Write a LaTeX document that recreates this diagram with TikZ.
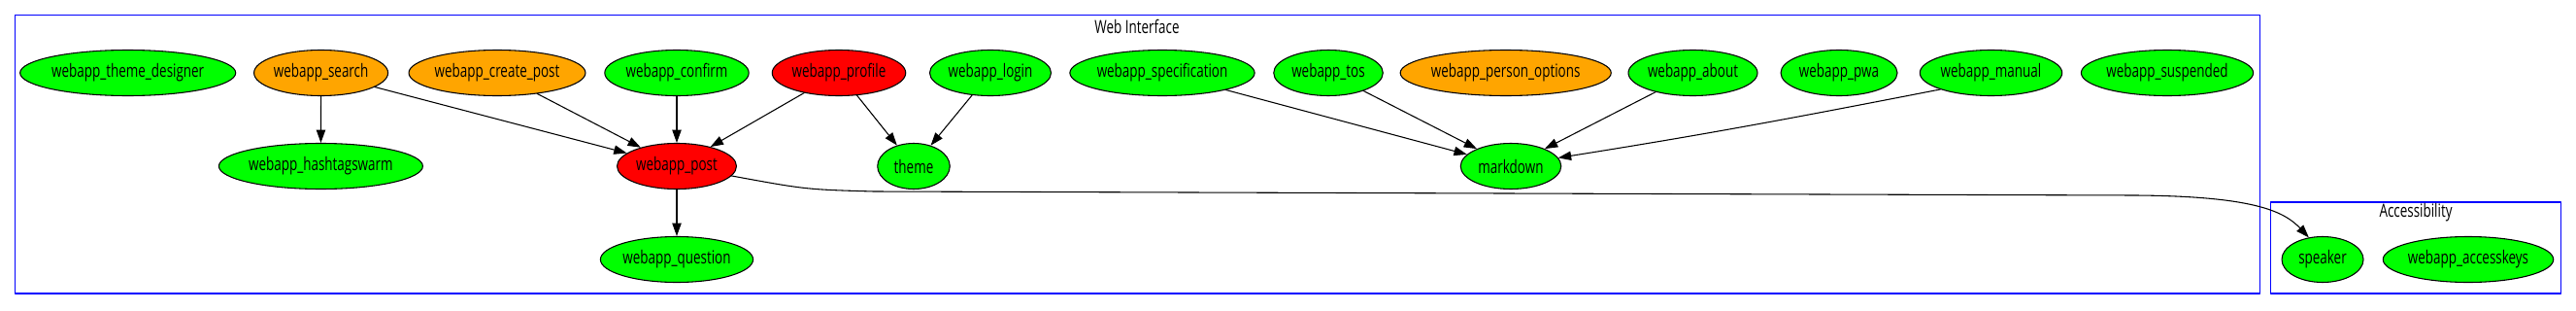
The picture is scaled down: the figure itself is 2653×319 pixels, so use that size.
\documentclass[tikz,border=0pt]{standalone}
\usepackage{fontspec}
\setmainfont{Open Sans}[FakeStretch=0.72]
\usetikzlibrary{arrows.meta, shapes.geometric}
\definecolor{gvgreen}{HTML}{00FF00}
\definecolor{gvorange}{HTML}{FFA500}
\definecolor{gvred}{HTML}{FF0000}
\def\px{0.75pt}
\tikzset{
  >={Triangle[length=10pt, width=7pt]},
  every picture/.style={line cap=round, line join=round, font=\fontsize{14pt}{17pt}\selectfont},
  mod/.style={ellipse, draw, line width=0.8pt, inner sep=0pt, minimum height=47*\px},
  wd/.style={minimum width=#1*\px},
  okmod/.style={mod, fill=gvgreen},
  warnmod/.style={mod, fill=gvorange},
  errmod/.style={mod, fill=gvred},
  dep/.style={->, line width=0.8pt},
  cluster/.style={draw=blue, line width=1pt},
}
\begin{document}
\begin{tikzpicture}[x=\px, y=\px]
  \useasboundingbox (0,0) rectangle (2653,319);
  % clusters
  \draw[cluster] (15.6,303.3) rectangle (2327.5,17);
  \node (webif) at (1171,292) {Web Interface};
  \draw[cluster] (2338.5,111) rectangle (2637.3,17);
  \node (access) at (2488,100) {Accessibility};
  % top row
  \node[okmod, wd=210] (designer) at (131.7,244) {webapp\_theme\_designer};
  \node[warnmod, wd=138] (search) at (330.6,244) {webapp\_search};
  \node[warnmod, wd=175] (createpost) at (512,244) {webapp\_create\_post};
  \node[okmod, wd=147] (confirm) at (697,244) {webapp\_confirm};
  \node[errmod, wd=137.5] (profile) at (864,244) {webapp\_profile};
  \node[okmod, wd=125] (login) at (1020,244) {webapp\_login};
  \node[okmod, wd=181] (spec) at (1197,244) {webapp\_specification};
  \node[okmod, wd=112.5] (tos) at (1368,244) {webapp\_tos};
  \node[warnmod, wd=204] (personopt) at (1550.7,244) {webapp\_person\_options};
  \node[okmod, wd=133] (about) at (1743.5,244) {webapp\_about};
  \node[okmod, wd=120] (pwa) at (1894,244) {webapp\_pwa};
  \node[okmod, wd=145.5] (manual) at (2050.5,244) {webapp\_manual};
  \node[okmod, wd=172] (suspended) at (2232,244) {webapp\_suspended};
  % middle row
  \node[okmod, wd=196] (hashtag) at (330.4,148) {webapp\_hashtagswarm};
  \node[errmod, wd=123] (post) at (697,148) {webapp\_post};
  \node[okmod, wd=74.5] (theme) at (941,148) {theme};
  \node[okmod, wd=103.5] (markdown) at (1556,148) {markdown};
  % bottom row
  \node[okmod, wd=154] (question) at (697,52) {webapp\_question};
  \node[okmod, wd=84] (speaker) at (2392,52) {speaker};
  \node[okmod, wd=168.5] (accesskeys) at (2542,52) {webapp\_accesskeys};
  % dependencies
  \draw[dep] (search) -- (hashtag);
  \foreach \src in {search, createpost, confirm, profile}
    \draw[dep] (\src) -- (post);
  \draw[dep] (profile) -- (theme);
  \draw[dep] (login) -- (theme);
  \draw[dep] (post) -- (question);
  \foreach \src in {spec, tos, about}
    \draw[dep] (\src) -- (markdown);
  \draw[dep] (manual.198) to[out=191, in=9] (markdown.10);
  \draw[dep] (post.350) .. controls (830,124) .. (900,122) -- (2200,118)
    .. controls (2320,117) and (2352,102) .. (speaker.122);
\end{tikzpicture}
\end{document}
